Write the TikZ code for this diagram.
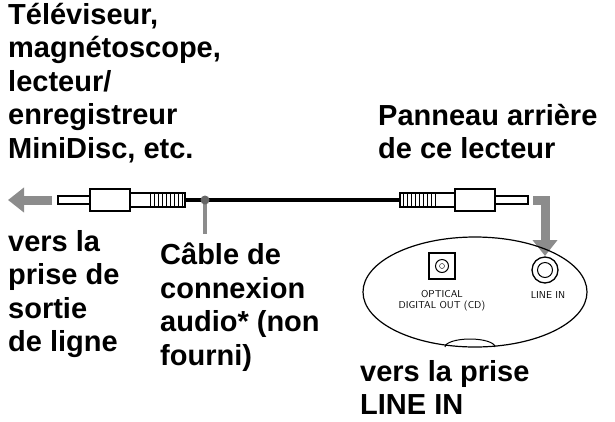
\documentclass[tikz,border=0pt]{standalone}
\usepackage{fontspec}
\setmainfont{Liberation Sans}
\usetikzlibrary{arrows.meta}
\tikzset{
  lbl/.style={anchor=north west, align=left, inner sep=0pt,
    font=\fontsize{29}{33.5}\selectfont\bfseries},
  tiny/.style={inner sep=0pt, font=\fontsize{10}{11}\selectfont\sffamily},
  grayarrow/.style={draw=black!45, line width=9pt, -{Triangle[width=24pt,length=16pt]}},
  plug/.style={draw, line width=1.2pt, fill=white},
}
\begin{document}
\begin{tikzpicture}[x=1pt,y=-1pt]
  \useasboundingbox (0,0) rectangle (615,421);
  % texts
  \node[lbl] (src) at (8,3) {Téléviseur,\\magnétoscope,\\lecteur/\\enregistreur\\MiniDisc, etc.};
  \node[lbl] (panel) at (378,104) {Panneau arrière\\de ce lecteur};
  \node[lbl] (out) at (8,230) {vers la\\prise de\\sortie\\de ligne};
  \node[lbl] (cable) at (160,243) {Câble de\\connexion\\audio* (non\\fourni)};
  \node[lbl] (linein) at (360,360) {vers la prise\\LINE IN};
  % cable
  \coordinate (cl) at (185,200);
  \coordinate (cr) at (400,200);
  \draw[line width=3.5pt] (cl) -- (cr);
  \coordinate (tap) at (205,200);
  \draw[black!45, line width=3.5pt] (tap) -- (205,234);
  \fill[black!60] (tap) circle (4.5);
  % left plug
  \draw[plug] (58,196) rectangle (90,204);
  \draw[plug] (90,189) rectangle (130,211);
  \draw[plug] (130,193) rectangle (185,207);
  \foreach \i in {0,...,8} \draw[line width=1pt] (150+\i*4,193) -- (150+\i*4,207);
  % right plug
  \draw[plug] (400,193) rectangle (455,207);
  \foreach \i in {0,...,8} \draw[line width=1pt] (403+\i*4,193) -- (403+\i*4,207);
  \draw[plug] (455,189) rectangle (495,211);
  \draw[plug] (495,196) rectangle (528,204);
  % arrows
  \draw[grayarrow] (52,200) -- (8,200);
  \draw[grayarrow] (533,200) -- (545,200) -- (545,256);
  % panel
  \draw[line width=1.2pt] (475,292) ellipse (112 and 55);
  \draw[line width=1pt] (445,347) arc (180:360:25 and 8);
  \node[draw, line width=1.3pt, minimum size=26pt, inner sep=0pt] (opt) at (442,266) {};
  \draw[line width=1pt] (opt.center) circle (6.5);
  \draw (opt.center) circle (2.5);
  \node[draw, circle, line width=1.3pt, minimum size=26pt, inner sep=0pt] (jack) at (545,270) {};
  \draw[line width=1pt] (jack.center) circle (7.5);
  \node[tiny, align=center] (optlbl) at (442,301) {OPTICAL\\DIGITAL OUT (CD)};
  \node[tiny] (jacklbl) at (548,295) {LINE IN};
\end{tikzpicture}
\end{document}
